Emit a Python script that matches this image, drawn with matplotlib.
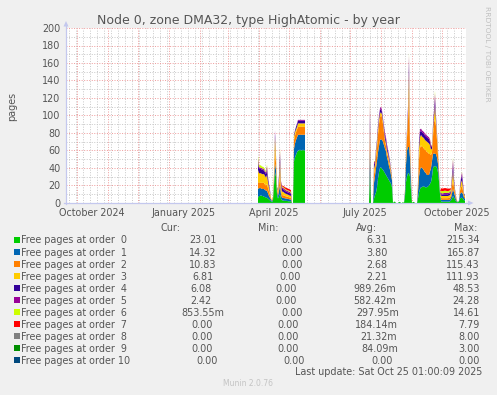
import datetime as dt
import numpy as np
import matplotlib
matplotlib.use('Agg')
import matplotlib.pyplot as plt
import matplotlib.dates as mdates
from matplotlib.patches import Polygon, Rectangle
from matplotlib.lines import Line2D

# ------------------------------------------------------------------ data
title = 'Node 0, zone DMA32, type HighAtomic - by year'
y_label = 'pages'
range_start = dt.datetime(2024, 9, 20, 1, 0, 9)
range_end = dt.datetime(2025, 10, 25, 1, 0, 9)
x_tick_labels = ['October 2024', 'January 2025', 'April 2025', 'July 2025', 'October 2025']
x_tick_dates = [dt.datetime(2024, 10, 16), dt.datetime(2025, 1, 16), dt.datetime(2025, 4, 16),
                dt.datetime(2025, 7, 16), dt.datetime(2025, 10, 16)]
y_ticks = [0, 20, 40, 60, 80, 100, 120, 140, 160, 180, 200]

series_names = ['Free pages at order  0', 'Free pages at order  1', 'Free pages at order  2',
                'Free pages at order  3', 'Free pages at order  4', 'Free pages at order  5',
                'Free pages at order  6', 'Free pages at order  7', 'Free pages at order  8',
                'Free pages at order  9', 'Free pages at order 10']
cur_txt = ['23.01', '14.32', '10.83', '6.81', '6.08', '2.42', '853.55m', '0.00', '0.00', '0.00', '0.00']
min_txt = ['0.00', '0.00', '0.00', '0.00', '0.00', '0.00', '0.00', '0.00', '0.00', '0.00', '0.00']
avg_txt = ['6.31', '3.80', '2.68', '2.21', '989.26m', '582.42m', '297.95m', '184.14m', '21.32m', '84.09m', '0.00']
max_txt = ['215.34', '165.87', '115.43', '111.93', '48.53', '24.28', '14.61', '7.79', '8.00', '3.00', '0.00']
last_update = 'Last update: Sat Oct 25 01:00:09 2025'
footer = 'Munin 2.0.76'
side_text = 'RRDTOOL / TOBI OETIKER'

# daily averages, segment A starts 2025-03-31, segment B starts 2025-07-20
seg_a_start = dt.datetime(2025, 3, 31, 1, 0, 9)
seg_b_start = dt.datetime(2025, 7, 20, 1, 0, 9)

order0_a = [6, 8, 8, 9, 8, 8, 7, 7, 6, 6, 5, 4, 3, 2, 1, 3,
            20, 35, 30, 10, 5, 8, 10, 5,
            3, 3, 2.5, 2.5, 2.5, 2.5, 2, 2, 2, 2,
            0, 0,
            48, 52, 55, 58, 60, 60, 61, 60, 60, 61, 60, 60]
order1_a = [10, 9, 9, 8, 8, 8, 9, 8, 8, 8, 6, 4, 3, 2, 1, 2,
            5, 10, 8, 4, 3, 6, 10, 5,
            3, 3, 3, 3, 2.5, 2.5, 2.5, 2.5, 2, 2,
            0, 0,
            14, 16, 17, 17, 18, 18, 17, 18, 18, 17, 18, 18]
order2_a = [8, 6, 6, 6, 7, 7, 7, 6, 6, 8, 6, 5, 3, 1, 1, 2,
            5, 15, 8, 3, 3, 6, 12, 5,
            3, 3, 3, 2.5, 2.5, 2.5, 2.5, 2, 2, 2,
            0, 0,
            10, 9, 9, 9, 9, 9, 9, 9, 10, 9, 9, 9]
order3_a = [14, 11, 11, 11, 10, 10, 10, 10, 9, 10, 7, 5, 3, 1, 0, 1,
            5, 15, 6, 2, 3, 6, 15, 5,
            4, 4, 3.5, 3, 3, 2.5, 2.5, 2.5, 2.5, 2,
            0, 0,
            4, 4, 3, 3, 4, 4, 4, 4, 3, 4, 4, 4]
order4_a = [8, 5, 5, 5, 5, 5, 4, 4, 4, 6, 4, 3, 2, 0, 0, 0,
            0, 5, 3, 0, 2, 4, 8, 3,
            3, 3, 3, 3, 2.5, 2.5, 2.5, 2.5, 2.5, 2,
            0, 0,
            2, 2, 3, 3, 3, 3, 3, 3, 3, 3, 3, 3]
order5_a = [5, 2, 1.5, 1.5, 1.5, 1.5, 1.5, 1.5, 2, 4, 2, 1, 1, 0, 0, 0,
            0, 3, 0, 0, 0, 2, 4, 2,
            2, 1.5, 1.5, 1.5, 1.5, 1.5, 1.5, 1.5, 1.5, 1.5,
            0, 0,
            0, 0, 0, 1, 1, 1, 1, 1, 1, 1, 1, 1]
order6_a = [3, 2.5, 2.5, 2.5, 2, 2, 2, 1.5, 1, 2, 1, 0, 0, 0, 0, 0,
            0, 0, 0, 0, 0, 0, 3, 0,
            1, 1, 1, 1, 1, 1, 1, 1, 1, 1,
            0, 0,
            0, 0, 0, 0, 0, 0, 0, 0, 0, 0, 0, 0]
order7_a = [0, 0, 0, 0, 0, 0, 0, 0, 0, 0, 0, 0, 0, 0, 0, 0,
            0, 0, 0, 0, 0, 0, 1, 0,
            1, 1, 1.5, 1.5, 2, 2, 2, 2, 2, 2,
            0, 0,
            0, 0, 0, 0, 0, 0, 0, 0, 0, 0, 0, 0]
order8_a = [0] * 48
order9_a = [0] * 48
order10_a = [0] * 48

order0_b = [0, 34, 0, 0, 0,
            5, 9, 12, 18, 28, 35, 40, 41, 39, 38, 36, 34, 32, 30, 28, 26, 24, 22, 18,
            0, 1.5, 1.5, 0, 0, 0, 1.2, 1.2, 0, 0, 1.2, 0,
            8, 24, 30, 34, 34, 30, 15,
            0, 1.2, 1.2, 0, 0, 0,
            5, 12, 16, 18, 18, 19, 19, 18, 18, 18, 19, 20, 22, 24, 30, 40, 42, 42, 42, 40, 35, 25, 10,
            2, 1.5, 1.5, 1.5, 1.5, 1.5, 1.5, 1.5, 1.5, 2, 3, 5, 8, 6, 4, 2, 1, 1, 2, 5, 6, 6, 5, 3, 3]
order1_b = [0, 26, 0, 0, 0,
            18, 22, 28, 30, 30, 30, 32, 32, 33, 32, 30, 28, 27, 22, 20, 16, 14, 10, 8,
            0, 0, 0, 0, 0, 0, 0, 0, 0, 0, 0, 0,
            5, 20, 30, 30, 30, 22, 10,
            0, 0, 0, 0, 0, 0,
            8, 18, 22, 23, 22, 20, 18, 17, 16, 14, 13, 12, 14, 16, 18, 16, 15, 14, 14, 12, 10, 6, 2,
            2, 2, 2, 2, 2, 2, 2, 2, 2, 2, 3, 6, 8, 6, 4, 2, 1, 0, 1, 5, 6, 6, 5, 3, 2]
order2_b = [0, 14, 0, 0, 0,
            10, 8, 12, 15, 20, 25, 26, 28, 26, 20, 14, 8, 6, 5, 5, 5, 4, 3, 2,
            0, 0, 0, 0, 0, 0, 0, 0, 0, 0, 0, 0,
            3, 8, 15, 30, 60, 12, 5,
            0, 0, 0, 0, 0, 0,
            6, 20, 25, 25, 24, 25, 25, 26, 26, 26, 26, 24, 20, 15, 10, 20, 35, 40, 32, 20, 10, 4, 1,
            2, 2, 2, 2, 2, 2, 2, 2, 2.5, 2.5, 3, 8, 10, 6, 4, 2, 1, 0, 0, 4, 6, 8, 4, 2, 2]
order3_b = [0, 14, 0, 0, 0,
            6, 5, 6, 6, 5, 5, 4, 3, 3, 3, 3, 3, 3, 3, 3, 3, 3, 2, 2,
            0, 0, 0, 0, 0, 0, 0, 0, 0, 0, 0, 0,
            0, 4, 5, 8, 25, 5, 2,
            0, 0, 0, 0, 0, 0,
            4, 12, 12, 12, 12, 11, 12, 11, 11, 12, 11, 12, 10, 6, 4, 8, 6, 15, 6, 5, 4, 2, 0,
            2.5, 2.5, 2.5, 2.5, 2.5, 2.5, 2.5, 2.5, 2.5, 2.5, 3, 6, 10, 5, 2, 1, 0, 0, 0, 3, 5, 6, 4, 2, 1]
order4_b = [0, 14, 0, 0, 0,
            5, 3, 3, 3, 4, 3, 4, 4, 3, 3, 3, 4, 4, 4, 3, 3, 2, 1, 1,
            0, 0, 0, 0, 0, 0, 0, 0, 0, 0, 0, 0,
            0, 2, 3, 5, 12, 3, 0,
            0, 0, 0, 0, 0, 0,
            2, 6, 6, 5, 5, 5, 5, 5, 5, 5, 5, 5, 4, 3, 2, 4, 5, 8, 4, 3, 2, 1, 0,
            1.5, 1.5, 1.5, 2, 2, 2, 2, 2, 2, 2, 2, 4, 8, 3, 2, 1, 0, 0, 0, 2, 4, 6, 3, 1, 1]
order5_b = [0, 10, 0, 0, 0,
            3, 1, 1, 1, 2, 2, 2, 2, 2, 1, 2, 3, 3, 3, 2, 2, 1, 1, 0,
            0, 0, 0, 0, 0, 0, 0, 0, 0, 0, 0, 0,
            0, 0, 2, 3, 8, 2, 0,
            0, 0, 0, 0, 0, 0,
            0, 2, 3, 2, 2, 2, 2, 2, 2, 2, 2, 2, 2, 1, 1, 2, 3, 6, 2, 1, 0, 0, 0,
            1.5, 1.5, 1.5, 1.5, 1.5, 1.5, 1.5, 1.5, 1.5, 1.5, 1, 3, 6, 2, 0, 0, 0, 0, 0, 1, 2, 3, 2, 0, 0]
order6_b = [0, 5, 0, 0, 0,
            1, 0, 0, 0, 0, 0, 0, 0, 0, 0, 0, 0, 0, 0, 0, 0, 0, 0, 0,
            0, 0, 0, 0, 0, 0, 0, 0, 0, 0, 0, 0,
            0, 0, 0, 0, 3, 0, 0,
            0, 0, 0, 0, 0, 0,
            0, 0, 0, 0, 0, 0, 0, 0, 0, 0, 0, 0, 0, 0, 0, 0, 0, 3, 0, 0, 0, 0, 0,
            2.5, 2.5, 2.5, 2.5, 2.5, 2.5, 2, 2, 2, 2, 1, 1, 2, 0, 0, 0, 0, 0, 0, 0, 0, 1, 0, 0, 0]
order7_b = [0, 3, 0, 0, 0,
            0, 0, 0, 0, 0, 0, 0, 0, 0, 0, 0, 0, 0, 0, 0, 0, 0, 0, 0,
            0, 0, 0, 0, 0, 0, 0, 0, 0, 0, 0, 0,
            0, 0, 0, 0, 0, 0, 0,
            0, 0, 0, 0, 0, 0,
            0, 0, 0, 0, 0, 0, 0, 0, 0, 0, 0, 0, 1, 1, 0, 0, 0, 0, 0, 0, 0, 0, 0,
            3, 3, 3, 3, 3, 3, 3, 3, 2.5, 2, 1, 0, 0, 0, 0, 0, 0, 0, 0, 0, 0, 0, 0, 0, 0]
order8_b = [0, 0, 0, 0, 0,
            0, 0, 0, 0, 0, 0, 0, 0, 0, 0, 0, 0, 0, 0, 0, 0, 0, 0, 0,
            0, 0, 0, 0, 0, 0, 0, 0, 0, 0, 0, 0,
            0, 0, 0, 0, 0, 0, 0,
            0, 0, 0, 0, 0, 0,
            0, 0, 0, 0, 0, 0, 0, 0, 0, 0, 0, 0, 0, 1, 0, 0, 0, 0, 0, 0, 0, 0, 0,
            0, 0, 0, 0, 0, 0, 0, 0, 0, 0, 0, 0, 0, 0, 0, 0, 0, 0, 0, 0, 0, 0, 0, 0, 0]
order9_b = [0] * 97
order10_b = [0] * 97

colors = ['#00CC00', '#0066B3', '#FF8000', '#FFCC00', '#330099', '#990099',
          '#CCFF00', '#FF0000', '#808080', '#008F00', '#00487D']

# ------------------------------------------------------------------ layout
W, H = 497, 395
BG = '#F0F0F0'
TXT = '#555555'
FS = 6.9
plt.rcParams['font.family'] = ['DejaVu Sans']

fig = plt.figure(figsize=(W / 100, H / 100), dpi=100, facecolor=BG)


def fx(px):
    return px / W


def fy(py):
    return 1 - py / H


PL, PR, PT, PB = 66, 466, 28, 203
ax = fig.add_axes([fx(PL), fy(PB), (PR - PL) / W, (PB - PT) / H])
ax.set_facecolor('white')
ax.set_xlim(mdates.date2num(range_start), mdates.date2num(range_end))
ax.set_ylim(0, 200)
for s in ax.spines.values():
    s.set_visible(False)
ax.set_xticks([])
ax.set_yticks([])

# grid
minor_col = '#C8C8C8'
major_col = '#EE9A9A'
dots = (0, (1, 1.6))
for v in range(10, 200, 20):
    ax.axhline(v, color=minor_col, lw=0.7, ls=dots, zorder=1)
for v in y_ticks[1:]:
    ax.axhline(v, color=major_col, lw=0.7, ls=dots, zorder=1.1)
d = range_start.date()
while d <= range_end.date():
    x = mdates.date2num(dt.datetime(d.year, d.month, d.day))
    if d.day == 1:
        ax.axvline(x, color=major_col, lw=0.7, ls=dots, zorder=1.1)
    elif d.weekday() == 0:
        ax.axvline(x, color=minor_col, lw=0.7, ls=dots, zorder=1)
    d += dt.timedelta(days=1)

# stacked areas
series_a = [order0_a, order1_a, order2_a, order3_a, order4_a, order5_a,
            order6_a, order7_a, order8_a, order9_a, order10_a]
series_b = [order0_b, order1_b, order2_b, order3_b, order4_b, order5_b,
            order6_b, order7_b, order8_b, order9_b, order10_b]
for start, series in [(seg_a_start, series_a), (seg_b_start, series_b)]:
    n = len(series[0])
    xs = mdates.date2num([start + dt.timedelta(days=i) for i in range(n)])
    ax.stackplot(xs, *[np.asarray(s, float) for s in series], colors=colors,
                 linewidth=0, zorder=2)

# axis lines with arrows
axis_col = '#C4C8EE'
fig.add_artist(Line2D([fx(PL), fx(PL)], [fy(PB + 1), fy(24)], color=axis_col, lw=0.9))
fig.add_artist(Line2D([fx(PL - 2), fx(470)], [fy(PB), fy(PB)], color=axis_col, lw=0.9))
fig.add_artist(Polygon([[fx(63.5), fy(26.5)], [fx(68.5), fy(26.5)], [fx(66), fy(21)]],
                       closed=True, color=axis_col, lw=0))
fig.add_artist(Polygon([[fx(468), fy(200.5)], [fx(468), fy(205.5)], [fx(473.5), fy(203)]],
                       closed=True, color=axis_col, lw=0))

# y tick labels
for v in y_ticks:
    py = PB - v * (PB - PT) / 200
    fig.text(fx(60.5), fy(py + 3.6), str(v), ha='right', va='baseline', fontsize=FS, color=TXT)
# x tick labels
for lab, dte in zip(x_tick_labels, x_tick_dates):
    xd = ax.transData.transform((mdates.date2num(dte), 0))[0]
    fig.text(xd / fig.dpi / fig.get_figwidth(), fy(215.8), lab, ha='center', va='baseline',
             fontsize=FS, color=TXT)

# title, y label, side text
fig.text(fx(248.5), fy(24), title, ha='center', va='baseline', fontsize=9, color=TXT)
fig.text(fx(12), fy(106), y_label, ha='center', va='center', rotation=90, fontsize=FS, color=TXT)
fig.text(fx(487), fy(53.5), side_text, ha='center', va='center', rotation=270,
         fontsize=5.4, color='#C0C0C0')

# legend
hdr_y = 230.7
fig.text(fx(170.3), fy(hdr_y), 'Cur:', ha='center', va='baseline', fontsize=FS, color=TXT)
fig.text(fx(268), fy(hdr_y), 'Min:', ha='center', va='baseline', fontsize=FS, color=TXT)
fig.text(fx(366), fy(hdr_y), 'Avg:', ha='center', va='baseline', fontsize=FS, color=TXT)
fig.text(fx(465.5), fy(hdr_y), 'Max:', ha='center', va='baseline', fontsize=FS, color=TXT)

cur_x = [202.7, 202.7, 202.7, 203.3, 200.7, 200.7, 202.8, 201.8, 202, 202, 207]
min_x = [291.7, 291.7, 291.7, 290, 286, 286, 291.7, 287.8, 288.3, 288.3, 294.3]
avg_x = [377, 377, 377, 376.7, 375, 375, 377.8, 376.8, 379, 379.5, 381.7]
for i, name in enumerate(series_names):
    base = 243.5 + 12 * i
    fig.add_artist(Rectangle((fx(14), fy(base - 0.8)), 6 / W, 6 / H, color=colors[i], lw=0))
    fig.text(fx(20.7), fy(base), name, ha='left', va='baseline', fontsize=FS, color=TXT)
    fig.text(fx(cur_x[i]), fy(base), cur_txt[i], ha='center', va='baseline', fontsize=FS, color=TXT)
    fig.text(fx(min_x[i]), fy(base), min_txt[i], ha='center', va='baseline', fontsize=FS, color=TXT)
    fig.text(fx(avg_x[i]), fy(base), avg_txt[i], ha='center', va='baseline', fontsize=FS, color=TXT)
    fig.text(fx(480), fy(base), max_txt[i], ha='right', va='baseline', fontsize=FS, color=TXT)

fig.text(fx(482.7), fy(375), last_update, ha='right', va='baseline', fontsize=FS, color=TXT)
fig.text(fx(248), fy(386.5), footer, ha='center', va='baseline', fontsize=5.5, color='#C4C4C4')

fig.savefig('out.png', dpi=100, facecolor=BG)
